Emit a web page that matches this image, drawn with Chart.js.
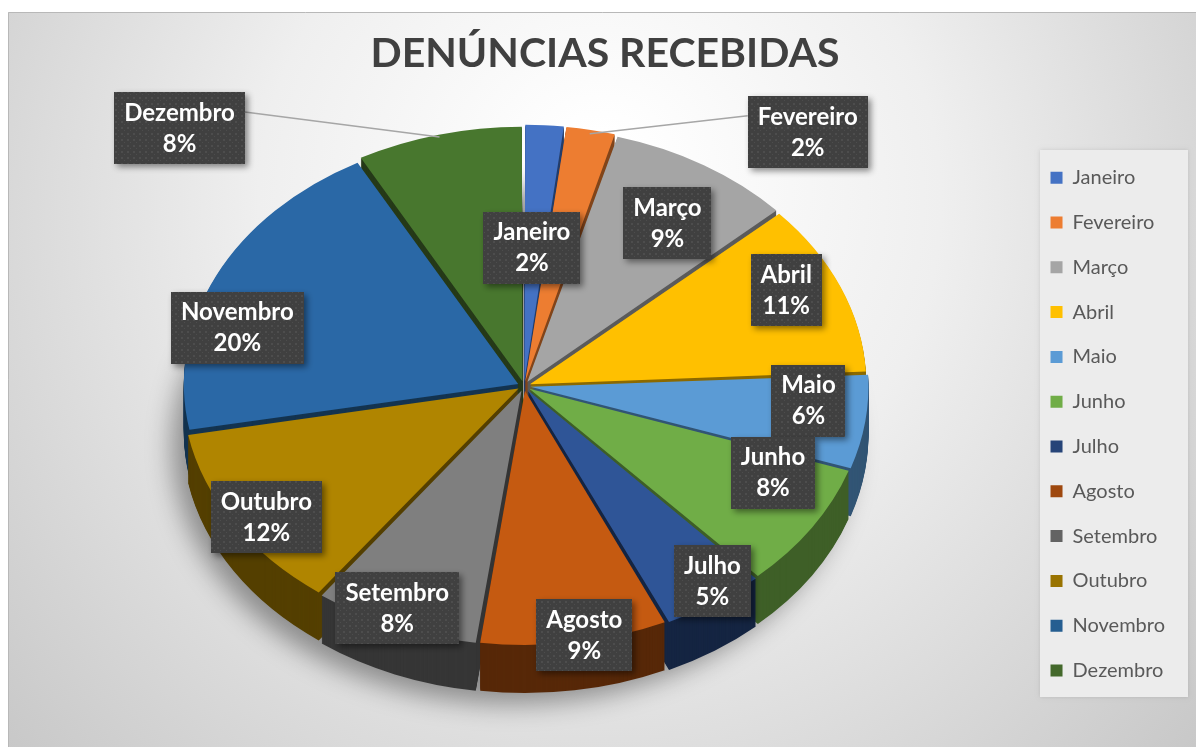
<!DOCTYPE html>
<html><head><meta charset="utf-8">
<script src="https://cdn.jsdelivr.net/npm/chart.js@4.4.1/dist/chart.umd.min.js"></script>
<style>html,body{margin:0;padding:0;background:#fff;overflow:hidden}canvas{display:block}</style>
</head><body>
<canvas id="c" width="1196" height="747"></canvas>
<script>
// ---- data ----
const titleText = 'DENÚNCIAS RECEBIDAS';
const categories = ['Janeiro','Fevereiro','Março','Abril','Maio','Junho','Julho','Agosto','Setembro','Outubro','Novembro','Dezembro'];
const values = [1.9, 2.4, 9, 11, 6, 8, 5, 9, 8, 12, 20, 8];
const legendColors = ['#4472C4','#ED7D31','#A5A5A5','#FFC000','#5B9BD5','#70AD47','#264478','#9E480E','#636363','#997300','#255E91','#43682B'];
const topColors = ['#4472C4','#ED7D31','#A5A5A5','#FFC000','#5B9BD5','#70AD47','#2F5597','#C55A11','#7F7F7F','#B08500','#2A68A6','#48772E'];
// label anchors (fractions of the ellipse radii along each slice's mid angle)
const labelFx = [0.40, 1, 0.82, 0.85, 0.86, 0.89, 1.02, 1.23, 1.01, 0.91, 0.95, 1];
const labelFy = [0.55, 1, 0.76, 0.99, 0.42, 0.63, 0.93, 1.00, 0.95, 0.98, 0.54, 1];
// outside labels: box offset from rim point (null = inside)
const labelDx = [null, 218, null, null, null, null, null, null, null, null, null, -260];
const labelDy = [null, -2, null, null, null, null, null, null, null, null, null, -9];

const total = values.reduce((a,b)=>a+b,0);
const pctText = values.map(v => Math.round(v/total*100) + '%');

function shade(hex, f){
  const n = parseInt(hex.slice(1),16);
  const r = Math.round(((n>>16)&255)*f), g = Math.round(((n>>8)&255)*f), b = Math.round((n&255)*f);
  return 'rgb('+r+','+g+','+b+')';
}
const sideColors = legendColors.map(c => shade(c, 0.55));

const view = {cx: 524, cy: 386, rx: 334, ry: 252, depth: 48};

// dotted pattern for label boxes
const pc = document.createElement('canvas'); pc.width = 6; pc.height = 6;
const pctx = pc.getContext('2d');
pctx.fillStyle = '#404040'; pctx.fillRect(0,0,6,6);
pctx.fillStyle = '#4d4d4d'; pctx.fillRect(1,1,2,2); pctx.fillRect(4,4,1,1);

const pie3d = {
  id: 'pie3d',
  beforeDraw(chart){
    const ctx = chart.ctx;
    ctx.save();
    ctx.fillStyle = '#ffffff'; ctx.fillRect(0,0,1196,747);
    const g = ctx.createRadialGradient(600, 170, 40, 600, 260, 900);
    g.addColorStop(0, '#ffffff');
    g.addColorStop(0.35, '#efefef');
    g.addColorStop(0.7, '#d4d4d4');
    g.addColorStop(1, '#bdbdbd');
    ctx.fillStyle = g; ctx.fillRect(8, 12, 1188, 735);
    ctx.strokeStyle = '#b8b8b8'; ctx.lineWidth = 1;
    ctx.beginPath(); ctx.moveTo(8.5, 747); ctx.lineTo(8.5, 12.5); ctx.lineTo(1196, 12.5); ctx.stroke();
    // legend panel
    ctx.shadowColor = 'rgba(0,0,0,0.12)'; ctx.shadowBlur = 4;
    ctx.fillStyle = '#ececec';
    ctx.fillRect(1040, 150, 148, 547);
    ctx.restore();
  },
  beforeDatasetsDraw(chart){
    const ctx = chart.ctx;
    const arcs = chart.getDatasetMeta(0).data;
    const a0 = arcs[0];
    const R = a0.outerRadius;
    const sx = view.rx / R, sy = view.ry / R;
    chart.$pie = {sx, sy, ax: a0.x, ay: a0.y};
    // soft shadow under the pie
    ctx.save();
    ctx.beginPath();
    ctx.ellipse(view.cx - 3000, view.cy + view.depth + 6, view.rx + 6, view.ry + 6, 0, 0, Math.PI*2);
    ctx.shadowColor = 'rgba(0,0,0,0.38)'; ctx.shadowBlur = 26;
    ctx.shadowOffsetX = 3000 - 12; ctx.shadowOffsetY = 6;
    ctx.fillStyle = '#000'; ctx.fill();
    ctx.restore();
    // elliptical transform
    ctx.save();
    ctx.translate(view.cx, view.cy); ctx.scale(sx, sy); ctx.translate(-a0.x, -a0.y);
    const mid = el => (el.startAngle + el.endAngle)/2;
    const order = arcs.map((a,i)=>i).sort((i,j)=>Math.sin(mid(arcs[i])) - Math.sin(mid(arcs[j])));
    const step = 1/sy;
    for (const i of order){
      const el = arcs[i];
      const fake = Object.create(el);
      fake.options = Object.assign({}, el.options, {backgroundColor: sideColors[i], borderColor: sideColors[i], borderWidth: 0});
      for (let d = view.depth; d >= 1; d -= 1){
        ctx.save(); ctx.translate(0, d*step); el.draw.call(fake, ctx); ctx.restore();
      }
    }
  },
  afterDatasetsDraw(chart){
    const ctx = chart.ctx;
    ctx.restore();
    const arcs = chart.getDatasetMeta(0).data;
    const {sx, sy} = chart.$pie;
    ctx.save();
    ctx.font = 'bold 24px Lato';
    ctx.textAlign = 'center'; ctx.textBaseline = 'middle';
    arcs.forEach((el, i) => {
      const m = (el.startAngle + el.endAngle)/2;
      const rx = sx*el.outerRadius, ry = sy*el.outerRadius;
      const c = Math.cos(m), s = Math.sin(m);
      let bx, by;
      const l1 = categories[i], l2 = pctText[i];
      const w = Math.max(ctx.measureText(l1).width, ctx.measureText(l2).width) + 20;
      const h = 72;
      if (labelDx[i] !== null){
        const px = view.cx + rx*c*1.02, py = view.cy + ry*s*1.02;
        bx = px + labelDx[i]; by = py + labelDy[i];
        const ex = labelDx[i] > 0 ? bx - w/2 : bx + w/2;
        ctx.save();
        ctx.strokeStyle = '#a6a6a6'; ctx.lineWidth = 1.6;
        ctx.beginPath(); ctx.moveTo(px, py); ctx.lineTo(ex, by - 16); ctx.stroke();
        ctx.restore();
      } else {
        bx = view.cx + labelFx[i]*rx*c; by = view.cy + labelFy[i]*ry*s;
      }
      ctx.save();
      ctx.shadowColor = 'rgba(0,0,0,0.45)'; ctx.shadowBlur = 6; ctx.shadowOffsetX = 3; ctx.shadowOffsetY = 3;
      ctx.fillStyle = ctx.createPattern(pc, 'repeat');
      ctx.fillRect(Math.round(bx - w/2), Math.round(by - h/2), Math.round(w), h);
      ctx.restore();
      ctx.fillStyle = '#ffffff';
      ctx.fillText(l1, bx, by - 15);
      ctx.fillText(l2, bx, by + 16);
    });
    ctx.restore();
  }
};

new Chart(document.getElementById('c'), {
  type: 'pie',
  data: {
    labels: categories,
    datasets: [{
      data: values,
      backgroundColor: topColors,
      borderWidth: 0,
      offset: 24,
      hoverOffset: 24,
      clip: false
    }]
  },
  options: {
    responsive: false,
    devicePixelRatio: 1,
    animation: false,
    events: [],
    layout: {padding: {top: 0, right: 21, bottom: 0, left: 35}},
    plugins: {
      tooltip: {enabled: false},
      title: {
        display: true,
        text: titleText,
        color: '#404040',
        font: {family: 'Lato', size: 41, weight: 'bold', lineHeight: 1.2},
        padding: {top: 29, bottom: 23}
      },
      legend: {
        position: 'right',
        align: 'center',
        fullSize: false,
        labels: {
          boxWidth: 12, boxHeight: 12,
          color: '#595959',
          font: {family: 'Lato', size: 20},
          padding: 24.8,
          generateLabels(chart){
            return categories.map((t, i) => ({
              text: t, fillStyle: legendColors[i], strokeStyle: legendColors[i],
              lineWidth: 0, hidden: false, index: i, fontColor: '#595959'
            }));
          }
        }
      }
    }
  },
  plugins: [pie3d]
});
</script>
</body></html>
